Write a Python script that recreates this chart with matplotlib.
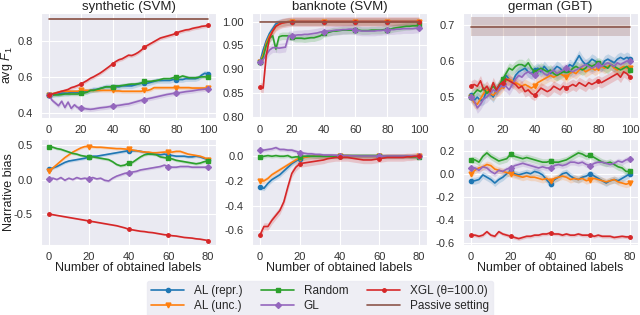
import numpy as np
import matplotlib
matplotlib.use("Agg")
import matplotlib.pyplot as plt
import seaborn as sns

sns.set_style("darkgrid")
plt.rcParams['font.family'] = ['Liberation Sans', 'DejaVu Sans']
plt.rcParams['mathtext.fontset'] = 'custom'
plt.rcParams['mathtext.it'] = 'Liberation Sans:italic'
plt.rcParams['mathtext.rm'] = 'Liberation Sans'
plt.rcParams['axes.unicode_minus'] = False

titles = ["synthetic (SVM)", "banknote (SVM)", "german (GBT)"]
labels = ["AL (repr.)", "AL (unc.)", "Random", "GL", "XGL (θ=100.0)", "Passive setting"]
x_top = list(range(0, 101, 2))
x_bot = list(range(0, 81, 2))

# ---------------- top row: avg F1 ----------------
syn_f1_repr = [0.500,0.500,0.505,0.505,0.510,0.510,0.510,0.515,0.515,0.515,
               0.520,0.520,0.520,0.525,0.530,0.530,0.535,0.540,0.545,0.545,
               0.545,0.545,0.545,0.550,0.550,0.550,0.550,0.555,0.560,0.565,
               0.565,0.565,0.570,0.575,0.580,0.580,0.580,0.580,0.580,0.585,
               0.585,0.585,0.585,0.590,0.590,0.590,0.590,0.595,0.610,0.620,0.615]
syn_f1_unc = [0.500,0.505,0.510,0.515,0.520,0.520,0.520,0.520,0.520,0.520,
              0.525,0.525,0.525,0.525,0.525,0.525,0.525,0.525,0.525,0.525,
              0.525,0.522,0.522,0.520,0.520,0.520,0.520,0.520,0.520,0.520,
              0.525,0.525,0.530,0.540,0.540,0.540,0.540,0.540,0.540,0.540,
              0.540,0.540,0.540,0.540,0.540,0.538,0.538,0.538,0.538,0.538,0.538]
syn_f1_rand = [0.500,0.500,0.500,0.500,0.502,0.505,0.505,0.505,0.505,0.505,
               0.508,0.510,0.515,0.525,0.525,0.530,0.535,0.540,0.545,0.545,
               0.545,0.550,0.550,0.552,0.555,0.558,0.560,0.560,0.562,0.565,
               0.575,0.575,0.575,0.578,0.580,0.585,0.590,0.590,0.590,0.595,
               0.600,0.598,0.605,0.600,0.595,0.595,0.595,0.598,0.600,0.600,0.598]
syn_f1_gl = [0.500,0.470,0.455,0.440,0.465,0.430,0.460,0.425,0.445,0.430,
             0.428,0.425,0.422,0.420,0.422,0.425,0.428,0.430,0.432,0.435,
             0.437,0.440,0.442,0.445,0.448,0.450,0.455,0.460,0.465,0.470,
             0.473,0.478,0.482,0.486,0.490,0.494,0.498,0.502,0.505,0.508,
             0.510,0.512,0.515,0.518,0.520,0.522,0.525,0.528,0.530,0.532,0.535]
syn_f1_xgl = [0.500,0.505,0.510,0.515,0.520,0.525,0.530,0.540,0.545,0.552,
              0.560,0.570,0.580,0.592,0.600,0.610,0.620,0.632,0.645,0.658,
              0.672,0.685,0.695,0.700,0.710,0.720,0.718,0.725,0.735,0.748,
              0.765,0.775,0.785,0.795,0.805,0.815,0.820,0.825,0.830,0.835,
              0.842,0.850,0.855,0.860,0.862,0.868,0.872,0.875,0.880,0.882,0.885]
syn_f1_passive = 0.92

bank_f1_repr = [0.915,0.940,0.960,0.975,0.985,0.995,0.997,0.998,0.999,1.000] + [1.000] * 41
bank_f1_unc = [0.915,0.930,0.955,0.970,0.980,0.990,0.995,0.997,0.999,1.000] + [1.000] * 41
bank_f1_rand = [0.915,0.925,0.950,0.965,0.970,0.942,0.968,0.970,0.970,0.970,
                0.968,0.965,0.965,0.965,0.964,0.965,0.966,0.966,0.968,0.970,
                0.975,0.976,0.978,0.980,0.980,0.981,0.982,0.982,0.982,0.982,
                0.982,0.982,0.981,0.981,0.981,0.982,0.982,0.982,0.982,0.983,
                0.983,0.984,0.986,0.987,0.988,0.989,0.990,0.990,0.991,0.991,0.992]
bank_f1_gl = [0.915,0.920,0.930,0.940,0.945,0.945,0.944,0.945,0.946,0.970,
              0.970,0.971,0.972,0.972,0.973,0.973,0.974,0.975,0.976,0.978,
              0.979,0.980,0.980,0.981,0.982,0.982,0.983,0.983,0.984,0.984,
              0.982,0.981,0.980,0.980,0.980,0.980,0.980,0.981,0.981,0.982,
              0.982,0.983,0.983,0.984,0.984,0.985,0.985,0.985,0.985,0.986,0.986]
bank_f1_xgl = [0.862,0.860,0.930,0.965,0.980,0.990,0.994,0.997,0.998,0.999] + [1.000] * 41
bank_f1_passive = 1.0

ger_f1_repr = [0.505,0.490,0.500,0.490,0.495,0.520,0.510,0.500,0.520,0.530,
               0.540,0.560,0.550,0.540,0.560,0.570,0.575,0.580,0.570,0.565,
               0.575,0.580,0.570,0.585,0.575,0.565,0.575,0.585,0.580,0.570,
               0.575,0.590,0.585,0.600,0.615,0.600,0.590,0.595,0.605,0.600,
               0.590,0.585,0.600,0.605,0.600,0.595,0.605,0.610,0.605,0.610,0.605]
ger_f1_unc = [0.500,0.485,0.480,0.495,0.510,0.520,0.510,0.505,0.515,0.520,
              0.530,0.545,0.550,0.545,0.540,0.535,0.530,0.535,0.530,0.525,
              0.530,0.540,0.545,0.550,0.555,0.560,0.555,0.560,0.565,0.560,
              0.555,0.565,0.570,0.565,0.575,0.580,0.570,0.575,0.580,0.575,
              0.580,0.585,0.580,0.585,0.590,0.580,0.575,0.580,0.585,0.580,0.580]
ger_f1_rand = [0.500,0.510,0.520,0.515,0.525,0.510,0.520,0.530,0.520,0.535,
               0.550,0.565,0.580,0.575,0.585,0.590,0.590,0.585,0.595,0.580,
               0.570,0.575,0.580,0.575,0.570,0.575,0.565,0.560,0.565,0.570,
               0.575,0.570,0.580,0.585,0.580,0.575,0.580,0.590,0.585,0.590,
               0.595,0.590,0.585,0.580,0.590,0.585,0.580,0.575,0.580,0.585,0.575]
ger_f1_gl = [0.500,0.490,0.470,0.480,0.495,0.500,0.510,0.520,0.515,0.525,
             0.535,0.530,0.520,0.535,0.550,0.560,0.555,0.565,0.570,0.565,
             0.560,0.570,0.575,0.565,0.560,0.570,0.575,0.565,0.570,0.575,
             0.580,0.575,0.570,0.575,0.580,0.585,0.590,0.585,0.580,0.585,
             0.590,0.585,0.590,0.595,0.590,0.585,0.595,0.590,0.595,0.600,0.600]
ger_f1_xgl = [0.530,0.535,0.530,0.545,0.520,0.530,0.515,0.540,0.520,0.535,
              0.540,0.550,0.545,0.540,0.535,0.525,0.530,0.515,0.520,0.510,
              0.505,0.515,0.525,0.520,0.515,0.520,0.530,0.525,0.520,0.530,
              0.525,0.530,0.535,0.530,0.540,0.535,0.530,0.540,0.535,0.540,
              0.545,0.540,0.545,0.550,0.555,0.560,0.565,0.555,0.570,0.565,0.555]
ger_f1_passive = 0.695

# ---------------- bottom row: narrative bias ----------------
syn_nb_repr = [0.15,0.17,0.19,0.22,0.25,0.27,0.28,0.29,0.30,0.31,
               0.33,0.34,0.34,0.35,0.36,0.37,0.38,0.39,0.40,0.41,
               0.42,0.42,0.42,0.41,0.40,0.38,0.37,0.37,0.36,0.37,
               0.36,0.35,0.34,0.34,0.34,0.33,0.33,0.34,0.33,0.31,0.29]
syn_nb_unc = [0.13,0.17,0.22,0.27,0.32,0.36,0.40,0.43,0.46,0.48,
              0.48,0.475,0.47,0.47,0.465,0.46,0.455,0.45,0.45,0.445,
              0.44,0.43,0.42,0.41,0.40,0.40,0.39,0.39,0.395,0.40,
              0.40,0.40,0.41,0.41,0.39,0.37,0.36,0.35,0.34,0.32,0.29]
syn_nb_rand = [0.48,0.47,0.45,0.44,0.42,0.40,0.38,0.37,0.35,0.34,
               0.33,0.33,0.32,0.31,0.30,0.29,0.26,0.22,0.20,0.21,
               0.24,0.25,0.29,0.33,0.36,0.37,0.37,0.36,0.33,0.32,
               0.31,0.30,0.28,0.27,0.26,0.25,0.24,0.23,0.24,0.26,0.27]
syn_nb_gl = [0.01,0.02,0.00,0.03,-0.01,0.02,0.00,0.03,0.01,0.02,
             0.01,0.03,0.01,0.02,-0.01,-0.02,0.02,0.05,0.07,0.09,
             0.10,0.11,0.12,0.14,0.15,0.16,0.17,0.18,0.19,0.21,
             0.19,0.18,0.18,0.19,0.19,0.19,0.18,0.18,0.18,0.18,0.18]
syn_nb_xgl = [-0.50,-0.51,-0.52,-0.53,-0.54,-0.55,-0.56,-0.57,-0.58,-0.59,
              -0.60,-0.61,-0.62,-0.63,-0.64,-0.65,-0.66,-0.67,-0.685,-0.70,
              -0.72,-0.73,-0.74,-0.75,-0.755,-0.765,-0.77,-0.78,-0.79,-0.80,
              -0.805,-0.815,-0.82,-0.83,-0.84,-0.845,-0.85,-0.86,-0.865,-0.875,-0.885]

bank_nb_repr = [-0.25,-0.26,-0.22,-0.19,-0.17,-0.15,-0.12,-0.09,-0.06,-0.04,
                -0.02,-0.01,0.00,0.00,0.00,0.00,0.00,0.00,0.00,0.00,
                0.00,0.00,0.00,0.00,0.00,0.00,0.00,0.00,0.00,0.00,
                0.00,0.00,0.00,0.00,0.00,0.00,0.00,0.00,0.00,0.00,0.00]
bank_nb_unc = [-0.20,-0.20,-0.18,-0.15,-0.13,-0.11,-0.09,-0.07,-0.05,-0.03,
               -0.015,-0.01,-0.005,0.00,0.00,0.00,0.00,0.00,0.00,0.00,
               0.00,0.00,0.00,0.00,0.00,0.00,0.00,0.00,0.00,0.00,
               0.00,0.00,0.00,0.00,0.00,0.00,0.00,0.00,0.00,0.00,0.00]
bank_nb_rand = [-0.01,0.00,0.005,0.00,0.005,0.00,0.00,0.005,-0.01,-0.005,
                -0.005,0.00,0.00,0.00,0.00,0.00,0.00,0.00,0.00,0.00,
                0.005,0.005,0.005,0.005,0.005,0.005,0.005,0.005,0.005,0.005,
                0.005,0.00,0.00,0.00,0.00,0.00,0.00,0.00,-0.005,-0.005,-0.005]
bank_nb_gl = [0.05,0.05,0.055,0.06,0.07,0.055,0.055,0.05,0.05,0.04,
              0.03,0.025,0.02,0.02,0.015,0.015,0.01,0.01,0.01,0.008,
              0.005,0.005,0.004,0.003,0.003,0.002,0.002,0.002,0.002,0.002,
              0.002,0.002,0.002,0.002,0.002,0.002,0.002,0.002,0.002,0.002,0.002]
bank_nb_xgl = [-0.64,-0.57,-0.57,-0.52,-0.48,-0.44,-0.37,-0.25,-0.14,-0.09,
               -0.06,-0.055,-0.05,-0.045,-0.04,-0.035,-0.03,-0.02,-0.015,-0.01,
               -0.01,-0.01,-0.01,-0.015,-0.02,-0.025,-0.03,-0.03,-0.03,-0.025,
               -0.02,-0.015,-0.01,-0.01,-0.01,-0.01,-0.01,-0.005,-0.005,0.00,0.00]

ger_nb_repr = [-0.06,-0.06,-0.05,-0.01,-0.03,-0.05,-0.08,-0.05,-0.03,0.00,
               0.02,0.00,-0.01,0.00,0.01,0.00,0.02,0.01,-0.01,-0.05,
               -0.09,-0.05,-0.03,0.00,0.01,-0.02,-0.04,-0.05,-0.03,-0.02,
               0.00,-0.02,-0.04,-0.06,-0.08,-0.06,-0.05,-0.06,-0.04,-0.02,0.00]
ger_nb_unc = [0.00,0.03,0.05,0.06,0.08,0.07,0.04,0.03,0.02,0.01,
              0.00,-0.01,-0.02,-0.03,-0.02,-0.03,-0.03,-0.04,-0.05,-0.04,
              -0.06,-0.04,-0.03,-0.02,-0.03,-0.05,-0.04,-0.05,-0.04,-0.06,
              -0.05,-0.04,-0.05,-0.06,-0.07,-0.06,-0.05,-0.07,-0.08,-0.09,-0.08]
ger_nb_rand = [0.12,0.12,0.10,0.15,0.18,0.15,0.13,0.11,0.12,0.13,
               0.17,0.15,0.14,0.13,0.14,0.13,0.12,0.11,0.10,0.10,
               0.11,0.10,0.10,0.11,0.12,0.14,0.16,0.18,0.17,0.15,
               0.16,0.14,0.12,0.10,0.09,0.10,0.08,0.06,0.05,0.02,0.02]
ger_nb_gl = [0.05,0.05,0.03,0.06,0.05,0.02,0.00,0.03,0.02,0.04,
             0.05,0.07,0.08,0.09,0.08,0.07,0.06,0.05,0.06,0.05,
             0.05,0.07,0.08,0.07,0.08,0.10,0.10,0.09,0.10,0.08,
             0.07,0.09,0.10,0.10,0.09,0.08,0.09,0.11,0.10,0.12,0.13]
ger_nb_xgl = [-0.53,-0.53,-0.54,-0.53,-0.50,-0.53,-0.54,-0.50,-0.52,-0.53,
              -0.54,-0.55,-0.56,-0.55,-0.54,-0.54,-0.53,-0.53,-0.52,-0.52,
              -0.51,-0.52,-0.52,-0.53,-0.52,-0.53,-0.53,-0.52,-0.53,-0.53,
              -0.53,-0.54,-0.53,-0.54,-0.54,-0.54,-0.55,-0.545,-0.54,-0.545,-0.545]

# band half-widths (repr, unc, rand, gl, xgl, passive)
syn_f1_band = [0.015, 0.01, 0.01, 0.012, 0.01, 0.004]
bank_f1_band = [0.008, 0.008, 0.008, 0.01, 0.01, 0.001]
ger_f1_band = [0.015, 0.015, 0.015, 0.015, 0.015, 0.027]
syn_nb_band = [0.02, 0.02, 0.02, 0.02, 0.01]
bank_nb_band = [0.02, 0.02, 0.015, 0.015, 0.03]
ger_nb_band = [0.03, 0.03, 0.03, 0.025, 0.015]

top_data = [
    ([syn_f1_repr, syn_f1_unc, syn_f1_rand, syn_f1_gl, syn_f1_xgl], syn_f1_passive, syn_f1_band),
    ([bank_f1_repr, bank_f1_unc, bank_f1_rand, bank_f1_gl, bank_f1_xgl], bank_f1_passive, bank_f1_band),
    ([ger_f1_repr, ger_f1_unc, ger_f1_rand, ger_f1_gl, ger_f1_xgl], ger_f1_passive, ger_f1_band),
]
bot_data = [
    ([syn_nb_repr, syn_nb_unc, syn_nb_rand, syn_nb_gl, syn_nb_xgl], syn_nb_band),
    ([bank_nb_repr, bank_nb_unc, bank_nb_rand, bank_nb_gl, bank_nb_xgl], bank_nb_band),
    ([ger_nb_repr, ger_nb_unc, ger_nb_rand, ger_nb_gl, ger_nb_xgl], ger_nb_band),
]

colors = ["#1f77b4", "#ff7f0e", "#2ca02c", "#9467bd", "#d62728", "#8c564b"]
markers = ["o", "v", "s", "D", "o"]
msizes = [3, 3.5, 3, 3, 2.5]

top_ylim = [(0.372, 0.954), (0.797, 1.018), (0.442, 0.733)]
top_yticks = [[0.4, 0.6, 0.8], [0.80, 0.85, 0.90, 0.95, 1.00], [0.5, 0.6, 0.7]]
bot_ylim = [(-0.95, 0.59), (-0.72, 0.14), (-0.615, 0.30)]
bot_yticks = [[-0.5, 0.0, 0.5], [-0.6, -0.4, -0.2, 0.0], [-0.6, -0.4, -0.2, 0.0, 0.2]]

TICK = 8
fig = plt.figure(figsize=(6.4, 3.15), dpi=100)
lefts = [41/640, 252/640, 463/640]
w = 175/640
ylab_x = (15 - 41) / 175
handles = None
for i in range(3):
    ax = fig.add_axes([lefts[i], 1-118/315, w, 105/315])
    series, passive, band = top_data[i]
    x = np.array(x_top)
    mk = [k for k, v in enumerate(x_top) if v % 20 == 0]
    hs = []
    for j, s in enumerate(series):
        s = np.array(s)
        ax.fill_between(x, s - band[j], s + band[j], color=colors[j], alpha=0.2, lw=0)
        h, = ax.plot(x, s, color=colors[j], lw=1.2, marker=markers[j], ms=msizes[j], markevery=mk)
        hs.append(h)
    pv = np.full(len(x), passive)
    ax.fill_between(x, pv - band[5], pv + band[5], color=colors[5], alpha=0.25, lw=0)
    h, = ax.plot(x, pv, color=colors[5], lw=1.2)
    hs.append(h)
    handles = hs
    ax.set_xlim(-5, 105)
    ax.set_ylim(*top_ylim[i])
    ax.set_yticks(top_yticks[i])
    ax.set_xticks([0, 20, 40, 60, 80, 100])
    ax.set_title(titles[i], fontsize=9.5, pad=2, color="#222222")
    ax.tick_params(axis="y", labelsize=TICK, pad=2.5, colors="#333333")
    ax.tick_params(axis="x", labelsize=TICK, pad=1.5, colors="#333333")
    if i == 0:
        ax.set_ylabel("avg $F_1$", fontsize=9, color="#222222")
        ax.yaxis.set_label_coords(ylab_x, 0.5)

for i in range(3):
    ax = fig.add_axes([lefts[i], 1-245/315, w, 106/315])
    series, band = bot_data[i]
    x = np.array(x_bot)
    mk = [k for k, v in enumerate(x_bot) if v % 20 == 0]
    for j, s in enumerate(series):
        s = np.array(s)
        ax.fill_between(x, s - band[j], s + band[j], color=colors[j], alpha=0.2, lw=0)
        ax.plot(x, s, color=colors[j], lw=1.2, marker=markers[j], ms=msizes[j], markevery=mk)
    ax.set_xlim(-4, 84)
    ax.set_ylim(*bot_ylim[i])
    ax.set_yticks(bot_yticks[i])
    ax.set_xticks([0, 20, 40, 60, 80])
    ax.tick_params(axis="y", labelsize=TICK, pad=2.5, colors="#333333")
    ax.tick_params(axis="x", labelsize=TICK, pad=1.5, colors="#333333")
    ax.set_xlabel("Number of obtained labels", fontsize=9, labelpad=0, color="#222222")
    if i == 0:
        ax.set_ylabel("Narrative bias", fontsize=9, color="#222222")
        ax.yaxis.set_label_coords(ylab_x, 0.5)

leg = fig.legend(handles, labels, loc="upper center", bbox_to_anchor=(320/640, 1-275/315),
                 ncol=3, fontsize=8.5, frameon=True, handlelength=2.8,
                 columnspacing=1.6, borderpad=0.35, labelspacing=0.25, handletextpad=0.8)
leg.get_frame().set_facecolor("#EAEAF2")
leg.get_frame().set_edgecolor("#EAEAF2")

fig.savefig("out.png", dpi=100)
